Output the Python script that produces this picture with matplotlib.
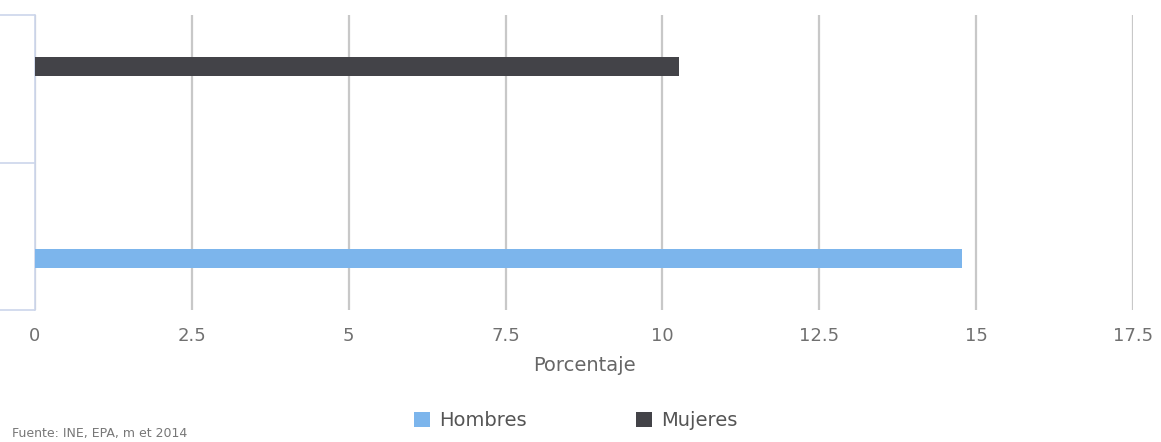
import matplotlib.pyplot as plt
from matplotlib.patches import Patch

# data
series = ["Hombres", "Mujeres"]
values = [14.78, 10.27]
colors = ["#7cb5ec", "#434348"]
# bar centre in category units (0..2 range, two category bands)
positions = [0.35, 1.65]
xticks = [0, 2.5, 5, 7.5, 10, 12.5, 15, 17.5]
xticklabels = ["0", "2.5", "5", "7.5", "10", "12.5", "15", "17.5"]

fig = plt.figure(figsize=(11.61, 4.42), dpi=100)
ax = fig.add_axes([35 / 1161, 1 - 310 / 442, (1133 - 35) / 1161, (310 - 15) / 442])

ax.barh(positions, values, height=0.13, color=colors, zorder=3)

ax.set_xlim(0, 17.5)
ax.set_ylim(0, 2)
ax.set_xticks(xticks)
ax.set_xticklabels(xticklabels)
ax.set_yticks([0, 1, 2])
ax.set_yticklabels([])

ax.grid(axis="x", color="#c8c8c8", linewidth=1.6, zorder=0)
for s in ["top", "right", "bottom"]:
    ax.spines[s].set_visible(False)
ax.spines["left"].set_color("#ccd6eb")
ax.spines["left"].set_linewidth(1.2)
ax.tick_params(axis="y", length=27, color="#ccd6eb", width=1.2)
ax.tick_params(axis="x", length=0, pad=12, labelsize=13, labelcolor="#707070")

ax.set_xlabel("Porcentaje", fontsize=14, color="#666666", labelpad=8)

handles = [Patch(facecolor=c, label=s) for s, c in zip(series, colors)]
fig.legend(handles=handles, loc="center", bbox_to_anchor=(576 / 1161, 1 - 421 / 442),
           ncol=2, frameon=False, fontsize=14, handlelength=0.8, handleheight=0.8,
           columnspacing=5.6, handletextpad=0.5, labelcolor="#555555")

fig.text(12 / 1161, 1 - 434 / 442, "Fuente: INE, EPA, m et 2014", fontsize=9,
         color="#777777", va="center", ha="left")

fig.savefig("out.png", dpi=100)
